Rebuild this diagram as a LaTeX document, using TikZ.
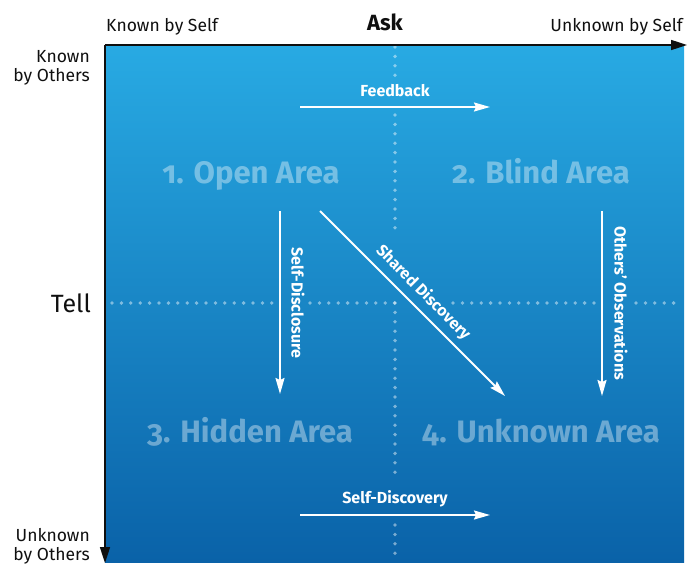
\documentclass[tikz,border=0pt]{standalone}
\usepackage{fontspec}
\setmainfont{Fira Sans}[Numbers=OldStyle]
\usetikzlibrary{arrows.meta}
\definecolor{bgtop}{RGB}{40,170,227}
\definecolor{bgmid}{RGB}{26,138,204}
\definecolor{bgbot}{RGB}{10,98,168}
\definecolor{axisink}{RGB}{15,15,15}
\tikzset{
  axislbl/.style={font=\fontsize{17.5}{20}\selectfont, text=axisink, inner sep=0pt},
  asklbl/.style={font=\fontsize{22}{26}\selectfont\bfseries, text=axisink, inner sep=0pt},
  telllbl/.style={font=\fontsize{25}{30}\selectfont, text=axisink, inner sep=0pt},
  area/.style={font=\fontsize{31}{36}\selectfont\bfseries, text=white, text opacity=0.38, inner sep=0pt},
  flowlbl/.style={font=\fontsize{16}{19}\selectfont\bfseries, text=white, inner sep=0pt},
  flow/.style={draw=white, line width=1.8pt, -{Stealth[length=16pt,width=9pt,inset=2pt]}},
  axisline/.style={draw=axisink, line width=1.6pt, -{Triangle[length=16pt,width=10pt]}},
  dotline/.style={draw=white, draw opacity=0.45, line width=3.8pt, line cap=round, dash pattern=on 0pt off 9.4pt}
}
\begin{document}
\begin{tikzpicture}[x=1pt,y=-1pt]
\useasboundingbox (0,0) rectangle (700,583);
% background
\shade[top color=bgtop, middle color=bgmid, bottom color=bgbot] (105,45) rectangle (684,562);
% dotted grid lines
\coordinate (v1) at (395,47); \coordinate (v2) at (395,76);
\coordinate (v3) at (395,115); \coordinate (v4) at (395,230);
\coordinate (v5) at (395,303); \coordinate (v6) at (395,480);
\coordinate (v7) at (395,525); \coordinate (v8) at (395,560);
\draw[dotline] (v1) -- (v2);
\draw[dotline] (v3) -- (v4);
\draw[dotline] (v5) -- (v6);
\draw[dotline] (v7) -- (v8);
\coordinate (h1) at (112,303); \coordinate (h2) at (272,303);
\coordinate (h3) at (310,303); \coordinate (h4) at (395,303);
\coordinate (h5) at (453,303); \coordinate (h6) at (595,303);
\coordinate (h7) at (636,303); \coordinate (h8) at (680,303);
\draw[dotline] (h1) -- (h2);
\draw[dotline] (h3) -- (h4);
\draw[dotline] (h5) -- (h6);
\draw[dotline] (h7) -- (h8);
% axes
\coordinate (org) at (105,45);
\coordinate (xend) at (687,45);
\coordinate (yend) at (105,563);
\draw[axisline] (org) -- (xend);
\draw[axisline] (org) -- (yend);
% axis labels
\node[axislbl, anchor=base west] (kself) at (106,32) {Known by Self};
\node[axislbl, anchor=base east] (uself) at (683,32) {Unknown by Self};
\node[asklbl, anchor=base] (ask) at (385,31) {Ask};
\node[axislbl, anchor=base east] (koth1) at (90,63) {Known};
\node[axislbl, anchor=base east] (koth2) at (90,82) {by Others};
\node[telllbl, anchor=base east] (tell) at (91,312) {Tell};
\node[axislbl, anchor=base east] (uoth1) at (90,541) {Unknown};
\node[axislbl, anchor=base east] (uoth2) at (90,560) {by Others};
% area labels
\node[area, anchor=base] (open) at (251,183) {1. Open Area};
\node[area, anchor=base] (blind) at (541,183) {2. Blind Area};
\node[area, anchor=base] (hidden) at (250,442) {3. Hidden Area};
\node[area, anchor=base] (unknown) at (541,442) {4. Unknown Area};
% flows
\coordinate (fbS) at (300,107); \coordinate (fbE) at (490,107);
\draw[flow] (fbS) -- (fbE);
\node[flowlbl, anchor=base] (fblbl) at (395,96) {Feedback};
\coordinate (sdS) at (300,515); \coordinate (sdE) at (490,515);
\draw[flow] (sdS) -- (sdE);
\node[flowlbl, anchor=base] (sdlbl) at (395,503) {Self-Discovery};
\coordinate (dsS) at (280,211); \coordinate (dsE) at (280,394);
\draw[flow] (dsS) -- (dsE);
\node[flowlbl, rotate=-90] (dslbl) at (298,303) {Self-Disclosure};
\coordinate (obS) at (602,211); \coordinate (obE) at (602,396);
\draw[flow] (obS) -- (obE);
\node[flowlbl, rotate=-90] (oblbl) at (621,303) {Others’ Observations};
\coordinate (shS) at (320,211); \coordinate (shE) at (505,396);
\draw[flow] (shS) -- node[flowlbl, sloped, above=6pt] (shlbl) {Shared Discovery} (shE);
\end{tikzpicture}
\end{document}
